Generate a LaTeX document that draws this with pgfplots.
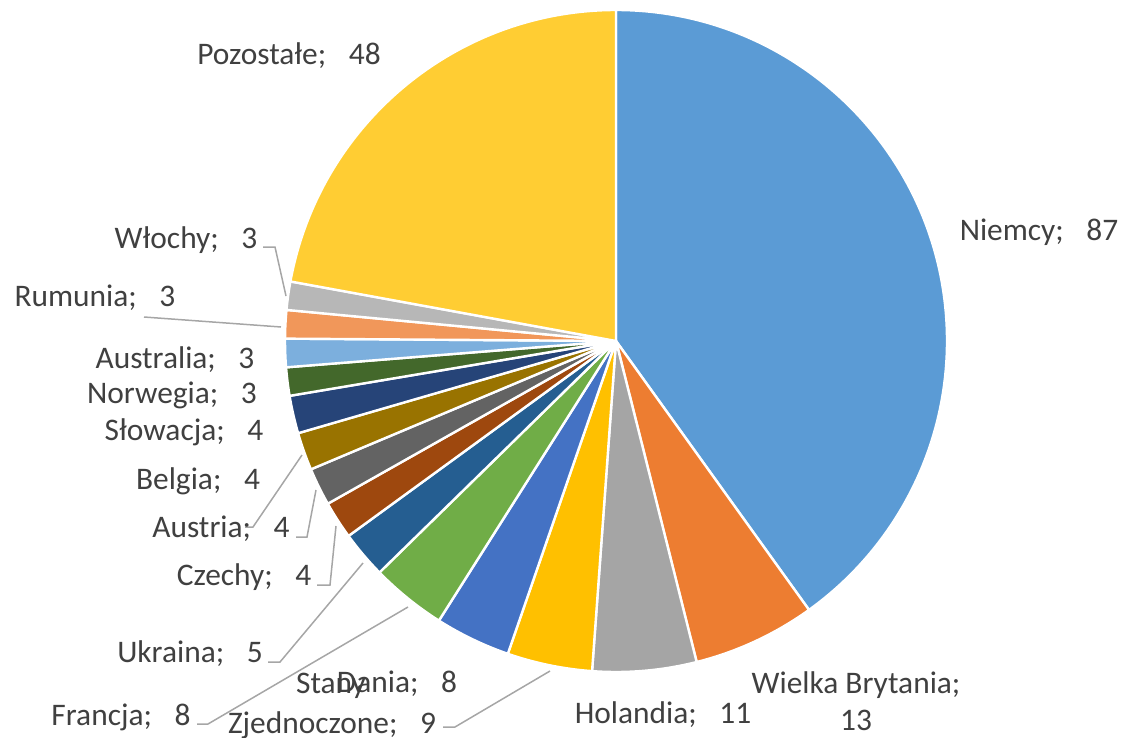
\documentclass[border=0pt]{standalone}
\usepackage{pgfplots}
\usepackage{pgfplotstable}
\pgfplotsset{compat=1.18}
\usepackage{fontspec}
\setmainfont{Carlito}
\definecolor{c1}{HTML}{5B9BD5}
\definecolor{c2}{HTML}{ED7D31}
\definecolor{c3}{HTML}{A5A5A5}
\definecolor{c4}{HTML}{FFC000}
\definecolor{c5}{HTML}{4472C4}
\definecolor{c6}{HTML}{70AD47}
\definecolor{c7}{HTML}{255E91}
\definecolor{c8}{HTML}{9E480E}
\definecolor{c9}{HTML}{636363}
\definecolor{c10}{HTML}{997300}
\definecolor{c11}{HTML}{264478}
\definecolor{c12}{HTML}{43682B}
\definecolor{c13}{HTML}{7CAFDD}
\definecolor{c14}{HTML}{F1975A}
\definecolor{c15}{HTML}{B7B7B7}
\definecolor{c16}{HTML}{FFCD33}
\definecolor{txt}{HTML}{404040}
\definecolor{lead}{HTML}{A6A6A6}
\pgfplotstableread[col sep=comma]{
name,value,color
Niemcy,87,c1
Wielka Brytania,13,c2
Holandia,11,c3
Stany Zjednoczone,9,c4
Dania,8,c5
Francja,8,c6
Ukraina,5,c7
Czechy,4,c8
Austria,4,c9
Belgia,4,c10
Słowacja,4,c11
Norwegia,3,c12
Australia,3,c13
Rumunia,3,c14
Włochy,3,c15
Pozostałe,48,c16
}\piedata
\newcommand\sep{;\hspace{0.72em}}
\tikzset{lbl/.style={font=\fontsize{15.7}{19}\selectfont, text=txt, inner sep=0pt, anchor=base}}
\begin{document}
\begin{tikzpicture}
\useasboundingbox (0,0) rectangle (562pt,369pt);
\begin{axis}[
  at={(0,0)}, anchor=south west,
  scale only axis, width=562pt, height=369pt,
  xmin=0, xmax=1124, ymin=0, ymax=738, y dir=reverse,
  hide axis, clip=false,
]
\pgfplotstablegetrowsof{\piedata}
\pgfmathtruncatemacro\N{\pgfplotsretval-1}
\def\total{0}
\pgfplotsforeachungrouped \i in {0,...,\N}{%
  \pgfplotstablegetelem{\i}{value}\of{\piedata}%
  \pgfmathsetmacro\total{\total+\pgfplotsretval}%
}
\def\cum{0}
\pgfplotsforeachungrouped \i in {0,...,\N}{%
  \pgfplotstablegetelem{\i}{value}\of{\piedata}\let\myval\pgfplotsretval
  \pgfplotstablegetelem{\i}{color}\of{\piedata}\let\mycol\pgfplotsretval
  \pgfmathsetmacro\sa{90-360*(\cum/\total)}%
  \pgfmathsetmacro\cum{\cum+\myval}%
  \pgfmathsetmacro\ea{90-360*(\cum/\total)}%
  \edef\temp{\noexpand\fill[fill=\mycol, draw=white, line width=1.2pt, line join=round]
    (axis cs:616,341) -- ++(\sa:165.5pt) arc[start angle=\sa, end angle=\ea, radius=165.5pt] -- cycle;}%
  \temp
}
% leader lines
\draw[lead, line width=0.75pt] (axis cs:263,247) -- (axis cs:275,247) -- (axis cs:286,296);
\draw[lead, line width=0.75pt] (axis cs:144,317) -- (axis cs:281,327);
\draw[lead, line width=0.75pt] (axis cs:245,527) -- (axis cs:253,527) -- (axis cs:302,455);
\draw[lead, line width=0.75pt] (axis cs:296,537) -- (axis cs:307,537) -- (axis cs:316,490);
\draw[lead, line width=0.75pt] (axis cs:317,585) -- (axis cs:330,585) -- (axis cs:336,526);
\draw[lead, line width=0.75pt] (axis cs:268,662) -- (axis cs:280,662) -- (axis cs:363,563);
\draw[lead, line width=0.75pt] (axis cs:197,724) -- (axis cs:208,724) -- (axis cs:408,607);
\draw[lead, line width=0.75pt] (axis cs:443,727) -- (axis cs:455,727) -- (axis cs:550,671);
% labels
\node[lbl] at (axis cs:1039,240) {Niemcy\sep 87};
\node[lbl] at (axis cs:856,693) {Wielka Brytania;};
\node[lbl] at (axis cs:856,730) {13};
\node[lbl] at (axis cs:663,723) {Holandia\sep 11};
\node[lbl] at (axis cs:331,693) {Stany};
\node[lbl] at (axis cs:332,733) {Zjednoczone\sep 9};
\node[lbl] at (axis cs:397,692) {Dania\sep 8};
\node[lbl] at (axis cs:121,725) {Francja\sep 8};
\node[lbl] at (axis cs:190,662) {Ukraina\sep 5};
\node[lbl] at (axis cs:244,585) {Czechy\sep 4};
\node[lbl] at (axis cs:221,537) {Austria\sep 4};
\node[lbl] at (axis cs:198,489) {Belgia\sep 4};
\node[lbl] at (axis cs:184,440) {Słowacja\sep 4};
\node[lbl] at (axis cs:172,403) {Norwegia\sep 3};
\node[lbl] at (axis cs:175,368) {Australia\sep 3};
\node[lbl] at (axis cs:95,306) {Rumunia\sep 3};
\node[lbl] at (axis cs:186,248) {Włochy\sep 3};
\node[lbl] at (axis cs:289,65) {Pozostałe\sep 48};
\end{axis}
\end{tikzpicture}
\end{document}
